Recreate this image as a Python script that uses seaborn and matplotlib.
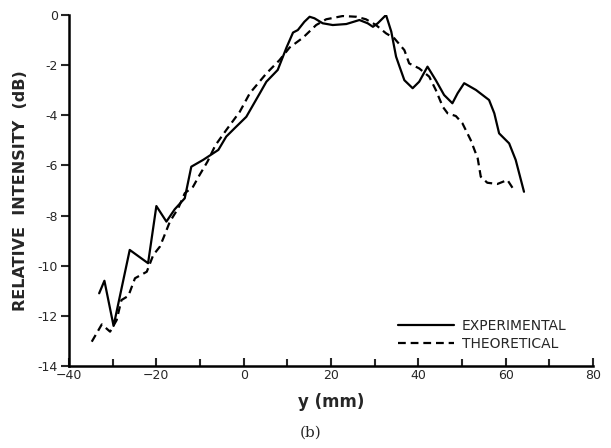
import numpy as np
import pandas as pd
import matplotlib
matplotlib.use("Agg")
import matplotlib.pyplot as plt
import seaborn as sns

exp_y = [-33.1, -31.9, -29.8, -26.1, -21.9, -20.0, -17.7, -15.8, -13.5, -12.0, -9.3,
         -5.8, -4.0, -2.1, 0.6, 3.7, 5.2, 7.8, 9.8, 11.3, 12.4, 13.9, 15.1, 16.2, 18.1,
         20.4, 23.5, 26.5, 28.4, 29.6, 30.7, 32.6, 33.8, 34.9, 35.7, 36.8, 38.7, 40.2,
         42.1, 44.0, 45.9, 47.8, 49.0, 50.5, 53.2, 56.2, 57.4, 58.5, 60.8, 62.3, 64.2]
exp_db = [-11.1, -10.6, -12.4, -9.37, -9.9, -7.62, -8.24, -7.75, -7.31, -6.05, -5.78,
          -5.38, -4.85, -4.52, -4.06, -3.12, -2.66, -2.19, -1.3, -0.7, -0.6, -0.27, -0.07,
          -0.13, -0.33, -0.4, -0.36, -0.2, -0.33, -0.47, -0.33, 0.0, -0.66, -1.66, -2.06,
          -2.6, -2.92, -2.66, -2.06, -2.6, -3.19, -3.52, -3.12, -2.72, -2.99, -3.39,
          -3.92, -4.72, -5.12, -5.78, -7.05]

theo_y = [-34.8, -32.5, -30.6, -29.1, -28.0, -26.4, -24.9, -22.2, -20.7, -19.2, -18.4,
          -16.9, -15.0, -13.5, -11.6, -10.1, -8.3, -6.5, -4.0, -0.9, 1.4, 5.2, 8.2, 10.5,
          13.6, 16.6, 18.9, 22.7, 25.8, 28.0, 30.3, 32.6, 34.5, 36.8, 37.9, 40.2, 42.5,
          44.0, 45.6, 46.7, 48.6, 50.1, 52.0, 53.6, 54.3, 55.8, 58.1, 60.4, 61.9]
theo_db = [-13.03, -12.34, -12.63, -12.17, -11.37, -11.2, -10.5, -10.24, -9.57, -9.24,
           -8.9, -8.24, -7.71, -7.11, -6.85, -6.38, -5.85, -5.2, -4.59, -3.86, -3.12,
           -2.33, -1.8, -1.3, -0.9, -0.4, -0.17, -0.04, -0.07, -0.17, -0.4, -0.73, -0.93,
           -1.4, -1.93, -2.13, -2.46, -2.99, -3.66, -3.92, -4.03, -4.32, -4.99, -5.72,
           -6.45, -6.69, -6.74, -6.58, -6.98]

labels = ["EXPERIMENTAL", "THEORETICAL"]
xticks = [-40, -20, 0, 20, 40, 60, 80]
yticks = [0, -2, -4, -6, -8, -10, -12, -14]

df = pd.concat([
    pd.DataFrame({"y": exp_y, "dB": exp_db, "curve": labels[0]}),
    pd.DataFrame({"y": theo_y, "dB": theo_db, "curve": labels[1]}),
])

sns.set_style("ticks")
plt.rcParams["font.family"] = ["DejaVu Sans"]

fig = plt.figure(figsize=(6.11, 4.48), dpi=100)
ax = fig.add_axes([0.113, 0.183, 0.8575, 0.7835])

sns.lineplot(data=df, x="y", y="dB", style="curve", color="black", linewidth=1.6,
             dashes={labels[0]: "", labels[1]: (3.5, 2.2)}, estimator=None,
             sort=False, legend=False, ax=ax)

ax.set_xlim(-40, 80)
ax.set_ylim(-14, 0)
ax.set_xticks(xticks)
ax.set_xticks([-30, -10, 10, 30, 50, 70], minor=True)
ax.set_yticks(yticks)
ax.set_yticklabels([str(t) for t in yticks])
ax.tick_params(axis="x", direction="in", length=6, width=1.5, labelsize=9, pad=2)
ax.tick_params(axis="x", which="minor", direction="in", length=5, width=1.5)
ax.tick_params(axis="y", direction="out", length=6, width=1.5, labelsize=9, pad=2)
for s in ["top", "right"]:
    ax.spines[s].set_visible(False)
for s in ["left", "bottom"]:
    ax.spines[s].set_linewidth(1.8)
    ax.spines[s].set_color("black")

ax.set_xlabel("y (mm)", fontsize=12, fontweight="bold", labelpad=8)
ax.set_ylabel("RELATIVE  INTENSITY  (dB)", fontsize=11.5, fontweight="bold", labelpad=7)
fig.text(0.508, 0.025, "(b)", family="DejaVu Serif", fontsize=11, ha="center")

ax.legend(ax.lines, labels, frameon=False, loc="upper left",
          bbox_to_anchor=(0.628, 0.135), handlelength=4.0, handletextpad=0.6,
          borderpad=0, borderaxespad=0, labelspacing=0.3, fontsize=10)

fig.savefig("out.png", dpi=100)
